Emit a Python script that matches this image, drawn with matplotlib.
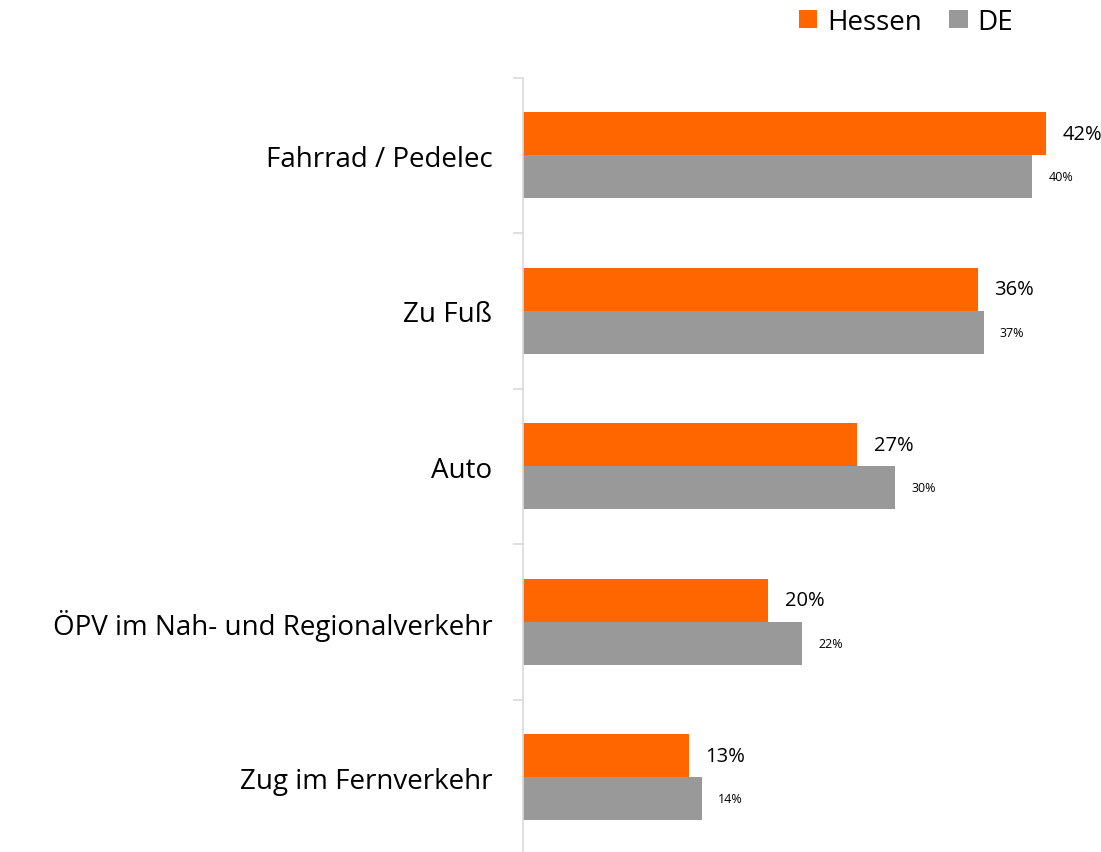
import matplotlib.pyplot as plt
import numpy as np

plt.rcParams["font.family"] = ["Open Sans", "DejaVu Sans"]

categories = [
    "Fahrrad / Pedelec",
    "Zu Fuß",
    "Auto",
    "ÖPV im Nah- und Regionalverkehr",
    "Zug im Fernverkehr",
]
hessen = [42.0, 36.5, 26.8, 19.7, 13.3]
de = [40.9, 37.0, 29.9, 22.4, 14.4]
hessen_labels = ["42%", "36%", "27%", "20%", "13%"]
de_labels = ["40%", "37%", "30%", "22%", "14%"]

ORANGE = "#FF6600"
GREY = "#999999"
AXIS = "#D9D9D9"

W, H = 1101, 853
fig = plt.figure(figsize=(W / 100, H / 100), dpi=100)
ax = fig.add_axes([523 / W, -3 / H, 578 / W, 777.5 / H])

y = np.arange(len(categories))
bh = 0.276

ax.barh(y - bh / 2, hessen, height=bh, color=ORANGE, label="Hessen")
ax.barh(y + bh / 2, de, height=bh, color=GREY, label="DE")

for yi, v, lab in zip(y, hessen, hessen_labels):
    ax.annotate(lab, (v, yi - bh / 2), xytext=(12, 0), textcoords="offset points",
                va="center", ha="left", fontsize=14.5, color="black")
for yi, v, lab in zip(y, de, de_labels):
    ax.annotate(lab, (v, yi + bh / 2), xytext=(11.5, 0), textcoords="offset points",
                va="center", ha="left", fontsize=9, color="black")

ax.set_xlim(0, 46.4)
ax.set_ylim(len(categories) - 0.5, -0.5)

ax.set_yticks(y)
ax.set_yticklabels(categories, fontsize=20)
ax.tick_params(axis="y", which="major", length=0, pad=22)
ax.set_yticks(np.arange(-0.5, len(categories) + 0.5, 1), minor=True)
ax.tick_params(axis="y", which="minor", length=7, width=1.2, color=AXIS)
ax.set_xticks([])

for side in ["top", "right", "bottom"]:
    ax.spines[side].set_visible(False)
ax.spines["left"].set_color(AXIS)
ax.spines["left"].set_linewidth(1.2)

fig.legend(
    handles=ax.patches[:1] + ax.patches[len(categories):len(categories) + 1],
    labels=["Hessen", "DE"],
    loc="upper right",
    bbox_to_anchor=(1024 / W, 1.003),
    ncol=2,
    frameon=False,
    fontsize=20,
    handlelength=0.65,
    handleheight=0.65,
    handletextpad=0.35,
    columnspacing=1.0,
    borderaxespad=0.0,
)

fig.savefig("out.png", dpi=100)
